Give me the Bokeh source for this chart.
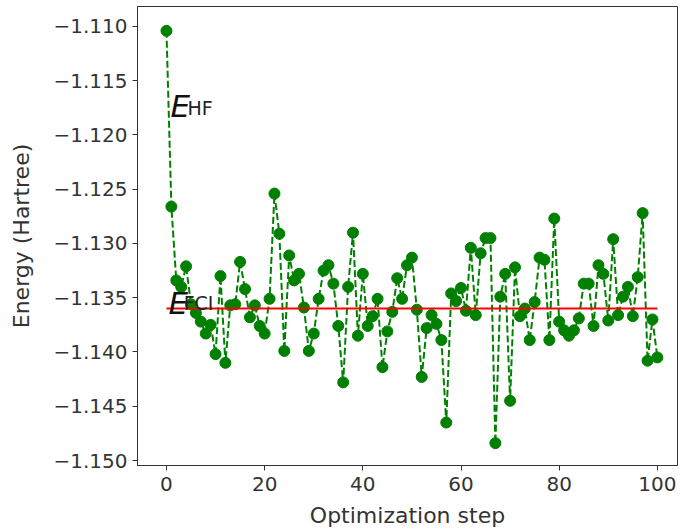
from bokeh.plotting import figure
from bokeh.models import Range1d, FixedTicker, Label
from bokeh.embed import file_html
from bokeh.resources import INLINE

steps = list(range(101))
energy = [
    -1.1104, -1.1266, -1.1334, -1.1340, -1.1321, -1.1356, -1.1364, -1.1372, -1.1383, -1.1375,
    -1.1402, -1.1330, -1.1410, -1.1357, -1.1356, -1.1317, -1.1342, -1.1368, -1.1357, -1.1376,
    -1.1383, -1.1351, -1.1254, -1.1291, -1.1399, -1.1311, -1.1334, -1.1328, -1.1359, -1.1399,
    -1.1383, -1.1351, -1.1325, -1.1320, -1.1337, -1.1376, -1.1428, -1.1340, -1.1290, -1.1385,
    -1.1328, -1.1376, -1.1367, -1.1351, -1.1414, -1.1381, -1.1363, -1.1332, -1.1351, -1.1320,
    -1.1313, -1.1361, -1.1423, -1.1378, -1.1366, -1.1374, -1.1389, -1.1465, -1.1346, -1.1353,
    -1.1341, -1.1362, -1.1304, -1.1366, -1.1309, -1.1295, -1.1295, -1.1484, -1.1349, -1.1328,
    -1.1445, -1.1322, -1.1367, -1.1360, -1.1389, -1.1354, -1.1313, -1.1315, -1.1389, -1.1277,
    -1.1372, -1.1380, -1.1385, -1.1380, -1.1369, -1.1337, -1.1337, -1.1376, -1.1320, -1.1328,
    -1.1371, -1.1296, -1.1366, -1.1349, -1.1340, -1.1367, -1.1331, -1.1272, -1.1408, -1.1370,
    -1.1405,
]
e_fci = -1.1360
fci_steps = [0, 100]

x_ticks = [0, 20, 40, 60, 80, 100]
y_ticks = [-1.110, -1.115, -1.120, -1.125, -1.130, -1.135, -1.140, -1.145, -1.150]
y_tick_labels = ["−1.110", "−1.115", "−1.120", "−1.125", "−1.130",
                 "−1.135", "−1.140", "−1.145", "−1.150"]

FONT = "DejaVu Sans"
TXT = "#333333"

p = figure(width=681, height=532, output_backend="svg", toolbar_location=None,
           x_range=Range1d(-5.9, 104.1), y_range=Range1d(-1.15046, -1.10816),
           min_border_left=137, min_border_right=4, min_border_top=6,
           min_border_bottom=67)

p.background_fill_color = "white"
p.border_fill_color = "white"
p.outline_line_color = TXT
p.outline_line_width = 1
p.xgrid.visible = False
p.ygrid.visible = False

p.xaxis.ticker = FixedTicker(ticks=x_ticks)
p.yaxis.ticker = FixedTicker(ticks=y_ticks)
p.yaxis.major_label_overrides = {t: l for t, l in zip(y_ticks, y_tick_labels)}

for ax in (p.xaxis[0], p.yaxis[0]):
    ax.major_tick_in = 0
    ax.major_tick_out = 5
    ax.minor_tick_in = 0
    ax.minor_tick_out = 0
    ax.axis_line_color = TXT
    ax.major_tick_line_color = TXT
    ax.major_label_text_font = FONT
    ax.major_label_text_font_size = "20px"
    ax.major_label_text_color = TXT
    ax.axis_label_text_font = FONT
    ax.axis_label_text_font_size = "22px"
    ax.axis_label_text_font_style = "normal"
    ax.axis_label_text_color = TXT

p.xaxis.axis_label = "Optimization step"
p.yaxis.axis_label = "Energy (Hartree)"
p.xaxis.major_label_standoff = 6
p.yaxis.major_label_standoff = 5
p.xaxis.axis_label_standoff = 9
p.yaxis.axis_label_standoff = 16

p.line(steps, energy, line_color="green", line_width=2, line_dash="7 3")
p.scatter(steps, energy, size=11, fill_color="green", line_color="green")
p.line(fci_steps, [e_fci, e_fci], line_color="red", line_width=2)

def sub_label(x1, y1, x2, y2, sub):
    p.add_layout(Label(x=x1, y=y1, text="E", text_font=FONT, text_font_size="31px",
                       text_font_style="italic", text_color="#111111",
                       text_baseline="alphabetic", text_align="left"))
    p.add_layout(Label(x=x2, y=y2, text=sub, text_font=FONT, text_font_size="19px",
                       text_color="#222222", text_baseline="alphabetic", text_align="left"))

sub_label(0.8, -1.11737, 4.3, -1.11747, "HF")
sub_label(0.4, -1.13544, 3.5, -1.13553, "FCI")

open("out.html", "w").write(file_html(p, INLINE))
